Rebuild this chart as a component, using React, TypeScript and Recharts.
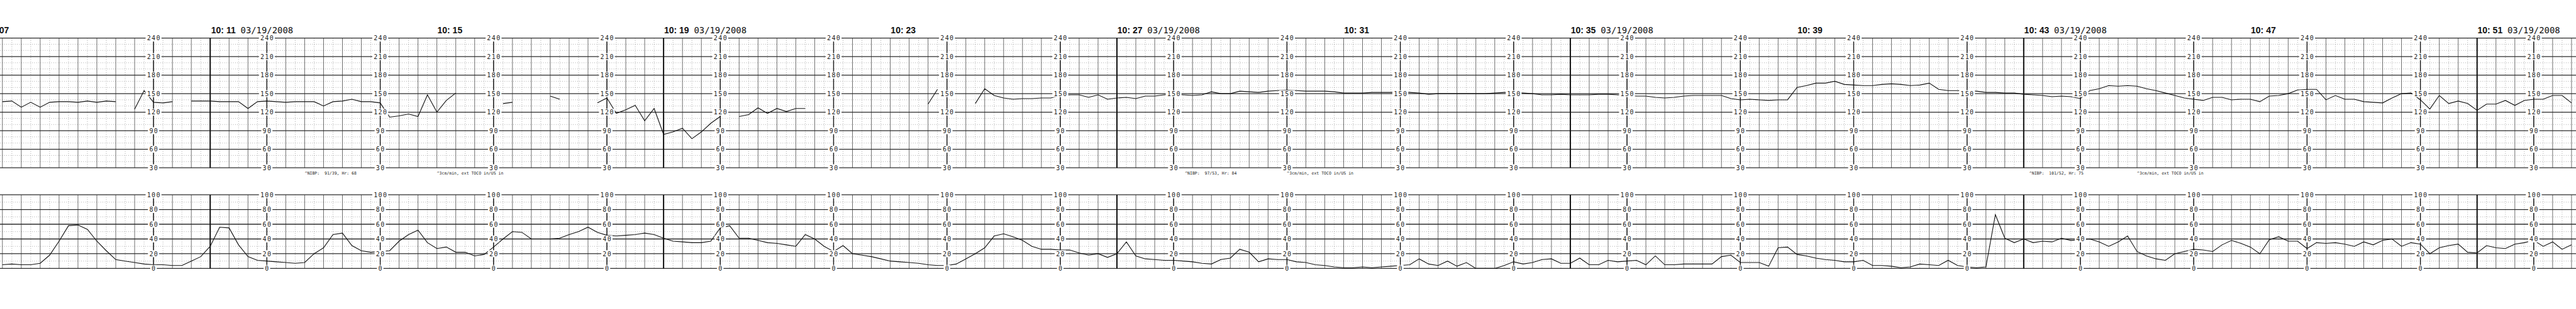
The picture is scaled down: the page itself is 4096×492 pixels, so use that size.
import { CartesianGrid, ComposedChart, Line, ReferenceDot, Scatter, XAxis, YAxis } from "recharts";

// CTG strip, 10:07 - 10:52 on 03/19/2008, paper at 3 cm/min
const width = 4096;

// x axis in minutes after 10:00
const stripStart = 7.2909;
const stripEnd = 52.7455;
const sampleStart = 7 + 20 / 60; // first sample 10:07:20
const sampleStep = 10 / 60; // one sample every 10 s

// fetal heart rate (bpm), null = signal loss
const fhr = [
  137, 138, 128, 136, 128, 136, 137, 137, 136, 138,
  136, 138, 137, null, 125, 155, 136, 135, 137, null,
  138, 138, 138, 137, 137, 137, 126, 137, 138, 137,
  136, 137, 137, 137, 130, 137, 138, 141, 137, 137,
  135, 112, 114, 117, 113, 148, 120, 139, 151, null,
  null, null, null, 134, 136, null, null, null, 146, 141,
  null, null, null, 135, 143, 118, 124, 131, 106, 126,
  84, 88, 94, 77, 88, 102, 113, null, 113, 116,
  127, 118, 126, 121, 126, 126, null, null, null, null,
  null, null, null, null, null, null, null, null, 133, 157,
  null, null, null, 134, 158, 147, 143, 141, 142, 142,
  143, 143, 147, 148, 148, 144, 148, 141, 143, 144,
  142, 146, 146, 148, 149, 148, 147, 148, 153, 150,
  150, 154, 153, 152, 154, 155, 156, 155, 154, 154,
  154, 153, 151, 151, 151, 152, 152, 152, 153, 152,
  151, 149, 150, 150, 150, 150, 150, 150, 151, 152,
  152, 151, 150, 148, 148, 149, 148, 148, 148, 149,
  149, 148, 147, 146, 146, 144, 143, 144, 146, 147,
  147, 147, 147, 142, 140, 141, 140, 139, 140, 140,
  160, 163, 167, 167, 170, 165, 164, 163, 163, 165,
  166, 165, 163, 164, 167, 157, 155, 155, 154, 154,
  152, 152, 151, 151, 149, 148, 147, 145, 146, 145,
  142, 155, 158, 163, 162, 163, 162, 158, 155, 151,
  147, 143, 141, 139, 144, 144, 140, 141, 141, 137,
  146, 147, 150, 156, 157, 157, 140, 147, 141, 141,
  137, 136, 135, 143, 150, 151, 140, 125, 147, 134,
  138, 134, 123, 133, 133, 139, 131, 139, 141, 141,
  147, 147, 135,
];

// uterine activity (TOCO units)
const uc = [
  5, 6, 5, 5, 7, 18, 37, 58, 59, 53,
  37, 24, 12, 10, 8, 6, 5, 5, 4, 4,
  10, 16, 30, 56, 55, 32, 16, 11, 10, 9,
  8, 7, 8, 20, 28, 46, 48, 31, 24, 22,
  23, 24, 37, 46, 52, 35, 27, 29, 22, 22,
  17, 19, 29, 40, 50, 49, 40, 40, 40, 41,
  46, 50, 56, 49, 45, 44, 45, 46, 48, 46,
  41, 37, 36, 35, 35, 37, 55, 58, 41, 41,
  38, 35, 34, 32, 30, 46, 40, 30, 23, 31,
  20, 18, 16, 13, 10, 9, 8, 7, 5, 4,
  4, 6, 13, 20, 28, 44, 47, 43, 38, 30,
  26, 26, 25, 25, 21, 18, 20, 15, 20, 36,
  17, 13, 12, 11, 11, 10, 9, 7, 6, 12,
  14, 26, 22, 9, 13, 12, 12, 9, 8, 5,
  4, 2, 1, 1, 2, 1, 2, 3, 4, 5,
  13, 6, 4, 10, 3, 8, 0, 0, 0, 4,
  9, 6, 8, 12, 13, 7, 7, 14, 5, 5,
  11, 9, 10, 11, 5, 17, 5, 5, 6, 6,
  6, 6, 16, 18, 8, 8, 8, 3, 28, 29,
  19, 17, 14, 12, 11, 9, 9, 11, 4, 4,
  3, 1, 2, 6, 5, 4, 11, 4, 2, 1,
  2, 73, 41, 35, 40, 35, 37, 36, 41, 38,
  39, 40, 36, 30, 36, 44, 23, 17, 13, 11,
  20, 23, 26, 25, 23, 32, 38, 34, 29, 20,
  39, 43, 37, 37, 27, 35, 34, 35, 33, 30,
  36, 32, 38, 40, 30, 35, 33, 20, 28, 31,
  33, 22, 21, 31, 28, 27, 33, 35, 38, 30,
  36, 26, 32,
];

// the 10:07 stamp runs off the left edge, only "07" is on the strip
const stampMinutes = [7, 11, 15, 19, 23, 27, 31, 35, 39, 43, 47, 51];
const stampTimes = ["07", "10: 11", "10: 15", "10: 19", "10: 23", "10: 27", "10: 31", "10: 35", "10: 39", "10: 43", "10: 47", "10: 51"];
const stampDates = ["", "03/19/2008", "", "03/19/2008", "", "03/19/2008", "", "03/19/2008", "", "03/19/2008", "", "03/19/2008"];

const noteMinutes = [12.67, 15, 28.2, 30, 43.1, 45];
const noteTexts = [
  "^NIBP:  91/39, Hr: 68",
  "^3cm/min, ext TOCO in/US in",
  "^NIBP:  97/53, Hr: 84",
  "^3cm/min, ext TOCO in/US in",
  "^NIBP:  101/52, Hr: 75",
  "^3cm/min, ext TOCO in/US in",
];

const scaleMinutes = [10, 12, 14, 16, 18, 20, 22, 24, 26, 28, 30, 32, 34, 36, 38, 40, 42, 44, 46, 48, 50, 52];
const pageSeams = [11, 19, 27, 35, 43, 51];
const fhrMajor = [30, 60, 90, 120, 150, 180, 210, 240];
const fhrMinor = [40, 50, 70, 80, 100, 110, 130, 140, 160, 170, 190, 200, 220, 230];
const ucMajor = [0, 20, 40, 60, 80, 100];
const ucMinor = [10, 30, 50, 70, 90];

// paper grid: solid every 20 s, dotted every 10 s in between
const solidLines = Array.from({ length: 137 }, (_, k) => 22 / 3 + k / 3);
const dottedLines = Array.from({ length: 136 }, (_, k) => 22 / 3 + 1 / 6 + k / 3);

const rows = fhr.map((v, i) => ({ m: sampleStart + i * sampleStep, fhr: v, uc: uc[i] }));

function ScaleLabel(props: any) {
  const { cx, cy } = props;
  const text = String(props.payload?.v ?? props.v);
  const w = text.length * 7.4 + 3;
  return (
    <g>
      <rect x={cx - w / 2} y={cy - 5.5} width={w} height={11} fill="#fff" />
      <text x={cx + 0.7} y={cy + 3.6} textAnchor="middle" fontFamily="DejaVu Sans Mono" fontSize={10} letterSpacing={1.4} fill="#222">
        {text}
      </text>
    </g>
  );
}

// time is right-aligned on its 40px slot so a clipped stamp keeps its visible digits
function Stamp({ cx, cy, time, date }: { cx: number; cy: number; time: string; date: string }) {
  return (
    <g>
      <text x={cx + 40.5} y={cy} textAnchor="end" fill="#111" fontFamily="Liberation Sans, Arial" fontWeight={700} fontSize={14}>
        {time}
      </text>
      {date ? (
        <text x={cx + 48.3} y={cy} fill="#111" fontFamily="DejaVu Sans Mono" fontSize={13.9}>
          {date}
        </text>
      ) : null}
    </g>
  );
}

function Note({ cx, cy, text }: { cx: number; cy: number; text: string }) {
  return (
    <text x={cx} y={cy + 2.3} fontFamily="DejaVu Sans Mono" fontSize={6.5} fill="#222" style={{ whiteSpace: "pre" }}>
      {text}
    </text>
  );
}

type StripProps = {
  top: number;
  height: number;
  margin: { top: number; bottom: number };
  domain: [number, number];
  major: number[];
  minor: number[];
  labels: number[];
  dataKey: "fhr" | "uc";
  extras?: React.ReactNode[];
};

function Strip({ top, height, margin, domain, major, minor, labels, dataKey, extras }: StripProps) {
  const labelData = scaleMinutes.flatMap((m) => labels.map((v) => ({ m, v })));
  return (
    <div style={{ position: "absolute", left: 0, top, width, height }}>
      <ComposedChart width={width} height={height} data={rows} margin={{ top: margin.top, bottom: margin.bottom, left: 0, right: 0 }}>
        <XAxis dataKey="m" type="number" domain={[stripStart, stripEnd]} hide interval={0} />
        <YAxis type="number" domain={domain} hide interval={0} />
        <CartesianGrid horizontal={false} verticalValues={dottedLines} stroke="#7a7a7a" strokeWidth={0.8} strokeDasharray="0.8 2.6" />
        <CartesianGrid vertical={false} horizontalValues={minor} stroke="#7a7a7a" strokeWidth={0.8} strokeDasharray="0.8 2.6" />
        <CartesianGrid horizontal={false} verticalValues={solidLines} stroke="#4a4a4a" strokeWidth={0.8} />
        <CartesianGrid vertical={false} horizontalValues={major} stroke="#2a2a2a" strokeWidth={1.3} />
        <CartesianGrid horizontal={false} verticalValues={scaleMinutes} stroke="#1a1a1a" strokeWidth={1.4} />
        <CartesianGrid horizontal={false} verticalValues={pageSeams} stroke="#111" strokeWidth={2} />
        <Scatter data={labelData} dataKey="v" shape={ScaleLabel} isAnimationActive={false} />
        <Line dataKey={dataKey} type="linear" stroke="#111" strokeWidth={1.1} dot={false} connectNulls={false} isAnimationActive={false} />
        {extras}
      </ComposedChart>
    </div>
  );
}

export default function App() {
  const stamps = stampMinutes.map((m, i) => (
    <ReferenceDot
      key={`s${i}`}
      x={m}
      y={247.5}
      ifOverflow="visible"
      shape={(p: any) => <Stamp cx={p.cx} cy={p.cy} time={stampTimes[i]} date={stampDates[i]} />}
    />
  ));
  const notes = noteMinutes.map((m, i) => (
    <ReferenceDot key={`n${i}`} x={m} y={21} ifOverflow="visible" shape={(p: any) => <Note cx={p.cx} cy={p.cy} text={noteTexts[i]} />} />
  ));

  return (
    <div style={{ position: "absolute", left: 0, top: 0, width, height: 492, background: "#fff", overflow: "hidden" }}>
      <Strip
        top={0}
        height={290}
        margin={{ top: 60.6, bottom: 22.9 }}
        domain={[30, 240]}
        major={fhrMajor}
        minor={fhrMinor}
        labels={fhrMajor.slice().reverse()}
        dataKey="fhr"
        extras={[...stamps, ...notes]}
      />
      <Strip
        top={290}
        height={160}
        margin={{ top: 20.1, bottom: 22.6 }}
        domain={[0, 100]}
        major={ucMajor}
        minor={ucMinor}
        labels={ucMajor.slice().reverse()}
        dataKey="uc"
      />
    </div>
  );
}
